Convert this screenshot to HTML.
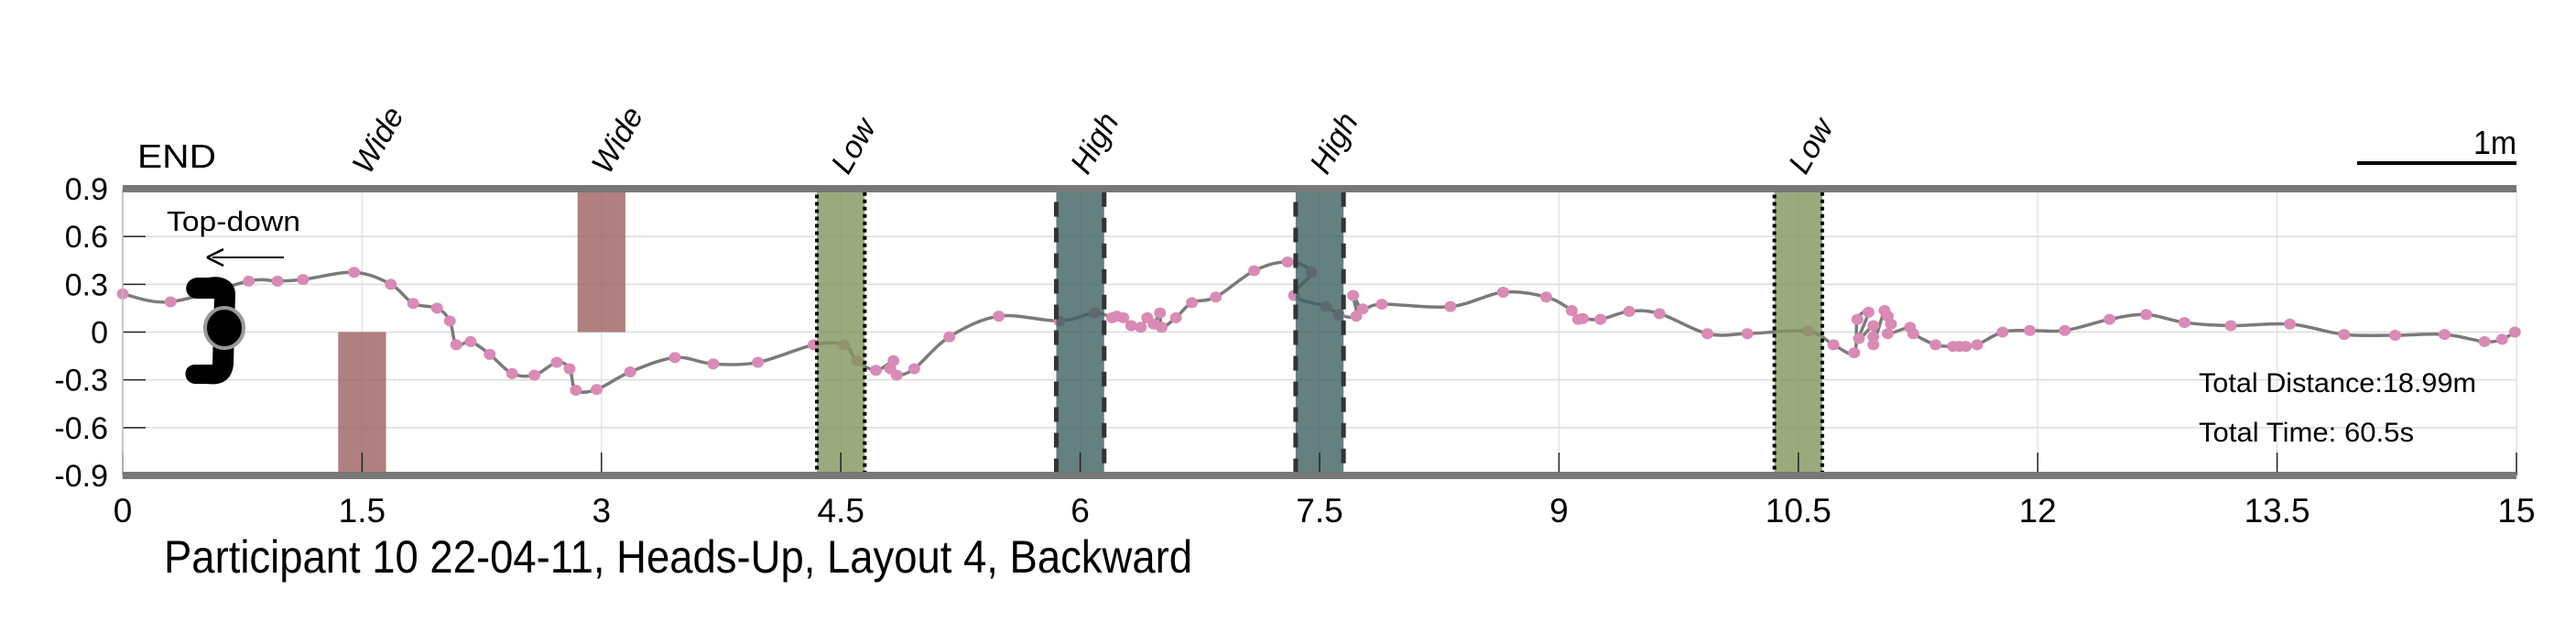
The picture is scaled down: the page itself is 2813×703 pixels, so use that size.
<!DOCTYPE html>
<html><head><meta charset="utf-8"><style>
html,body{margin:0;padding:0;background:#fff;}
svg{display:block;font-family:"Liberation Sans",sans-serif;}
</style></head><body>
<svg id="chart" width="2813" height="703" viewBox="0 0 2813 703" xmlns="http://www.w3.org/2000/svg">
<g id="grid"></g>
<g id="bands-under"></g>
<g id="series"></g>
<g id="bands-over"></g>
<g id="axes"></g>
<text x="150" y="183" font-size="36" textLength="86" lengthAdjust="spacingAndGlyphs">END</text>
<text x="182" y="252" font-size="31" textLength="146" lengthAdjust="spacingAndGlyphs">Top-down</text>
<g>
<line x1="310" y1="281" x2="232" y2="281" stroke="#000" stroke-width="2"/>
<path d="M226 281 L244 272 M226 281 L244 290" stroke="#000" stroke-width="2.5" fill="none"/>
</g>
<g>
<path d="M228 303 C242 300 256 306 257 320 L255 398 C253 416 241 421 226 419 L213 419 C199 418 199 398 213 398 L232 398 L234 326 L216 326 C199 326 199 304 216 303 Z" fill="#000"/>
<ellipse cx="245" cy="358" rx="21" ry="22" fill="#000" stroke="#999" stroke-width="4"/>
</g>
<g>
<line x1="2574" y1="178" x2="2748" y2="178" stroke="#000" stroke-width="4"/>
<text x="2748" y="168" font-size="36" text-anchor="end" textLength="47" lengthAdjust="spacingAndGlyphs">1m</text>
</g>
<text x="2401" y="428" font-size="30" textLength="303" lengthAdjust="spacingAndGlyphs">Total Distance:18.99m</text>
<text x="2401" y="482" font-size="30" textLength="235" lengthAdjust="spacingAndGlyphs">Total Time: 60.5s</text>
<text x="179" y="625" font-size="50" textLength="1123" lengthAdjust="spacingAndGlyphs">Participant 10 22-04-11, Heads-Up, Layout 4, Backward</text>
</svg>
<script>
const xTicks = [0,1.5,3,4.5,6,7.5,9,10.5,12,13.5,15];
const xTickLabels = ["0","1.5","3","4.5","6","7.5","9","10.5","12","13.5","15"];
const yTicks = [0.9,0.6,0.3,0,-0.3,-0.6,-0.9];
const yTickLabels = ["0.9","0.6","0.3","0","-0.3","-0.6","-0.9"];
const bandCenters = [1.5,3,4.5,6,7.5,10.5];
const bandLabels = ["Wide","Wide","Low","High","High","Low"];
const bandTop = [0,0.9,0.9,0.9,0.9,0.9];
const bandBottom = [-0.9,0,-0.9,-0.9,-0.9,-0.9];
const bandHalfWidth = 0.15;
const pathX = [0,0.30,0.79,0.97,1.13,1.45,1.68,1.82,1.97,2.05,2.09,2.18,2.30,2.44,2.58,2.72,2.80,2.84,2.97,3.18,3.46,3.70,3.98,4.33,4.52,4.60,4.72,4.83,4.81,4.85,4.96,5.18,5.49,5.87,6.09,6.20,6.23,6.27,6.32,6.38,6.42,6.46,6.50,6.51,6.60,6.70,6.85,7.09,7.30,7.45,7.34,7.54,7.62,7.73,7.71,7.77,7.89,8.32,8.65,8.92,9.08,9.12,9.15,9.26,9.44,9.63,9.93,10.18,10.56,10.72,10.85,10.87,10.94,10.88,10.97,10.97,10.97,11.04,11.06,11.08,11.06,11.20,11.22,11.36,11.47,11.51,11.55,11.62,11.78,11.95,12.17,12.45,12.68,12.92,13.21,13.58,13.92,14.24,14.55,14.80,14.91,14.99];
const pathY = [0.24,0.19,0.32,0.32,0.33,0.375,0.30,0.18,0.15,0.07,-0.08,-0.06,-0.14,-0.26,-0.27,-0.19,-0.23,-0.365,-0.36,-0.25,-0.16,-0.20,-0.19,-0.08,-0.08,-0.18,-0.24,-0.18,-0.23,-0.27,-0.23,-0.03,0.10,0.07,0.12,0.09,0.10,0.09,0.04,0.03,0.09,0.05,0.12,0.03,0.09,0.185,0.22,0.385,0.44,0.375,0.23,0.16,0.11,0.10,0.23,0.145,0.175,0.16,0.25,0.22,0.135,0.08,0.085,0.08,0.13,0.116,-0.01,-0.01,0.005,-0.08,-0.13,0.08,0.125,-0.04,0.04,-0.03,-0.08,0.135,0.10,0.05,-0.01,0.03,-0.01,-0.08,-0.09,-0.09,-0.09,-0.08,0.00,0.01,0.01,0.08,0.11,0.06,0.04,0.05,-0.015,-0.02,-0.015,-0.06,-0.045,0.0];
const X0=134, X1=2748, Y0=519, Y1=206, XMIN=0, XMAX=15, YMIN=-0.9, YMAX=0.9;
function sx(v){return X0+(v-XMIN)/(XMAX-XMIN)*(X1-X0);}
function sy(v){return Y0-(v-YMIN)/(YMAX-YMIN)*(Y0-Y1);}
const NS="http://www.w3.org/2000/svg";
function mk(tag,attrs,parent){const e=document.createElementNS(NS,tag);for(const k in attrs)e.setAttribute(k,attrs[k]);parent.appendChild(e);return e;}
const grid=document.getElementById('grid'), axes=document.getElementById('axes');
const under=document.getElementById('bands-under'), over=document.getElementById('bands-over'), series=document.getElementById('series');
xTicks.forEach((t,i)=>{
  const g=mk('line',{x1:sx(t),x2:sx(t),y1:Y1,y2:Y0,stroke:'#e4e4e4','stroke-width':1.5},grid);
  
  
  const tk=mk('line',{x1:sx(t),x2:sx(t),y1:Y0,y2:Y0-25,stroke:'#222','stroke-width':1.5},axes);
  
  
  const tx=mk('text',{x:sx(t),y:570,'font-size':37,'text-anchor':'middle'},axes);
  tx.textContent=xTickLabels[i];
  
  
});
yTicks.forEach((t,i)=>{
  const g=mk('line',{x1:X0,x2:X1,y1:sy(t),y2:sy(t),stroke:'#dcdcdc','stroke-width':1.5},grid);
  
  
  const tk=mk('line',{x1:X0,x2:X0+25,y1:sy(t),y2:sy(t),stroke:'#222','stroke-width':1.5},axes);
  
  
  const tx=mk('text',{x:118,y:sy(t)+12,'font-size':34,'text-anchor':'end'},axes);
  tx.textContent=yTickLabels[i];
  
  
});
const yl=mk('line',{x1:X0,x2:X0,y1:Y1,y2:Y0,stroke:'#bbb','stroke-width':1.5},axes);


[YMAX,YMIN].forEach(v=>{
  const b=mk('line',{x1:X0,x2:X1,y1:sy(v),y2:sy(v),stroke:'#777','stroke-width':8},axes);
  
  
});
const pts=pathX.map((x,i)=>[sx(x),sy(pathY[i])]);
let d='M'+pts[0][0]+' '+pts[0][1];
for(let i=0;i<pts.length-1;i++){
  const p0=pts[Math.max(0,i-1)],p1=pts[i],p2=pts[i+1],p3=pts[Math.min(pts.length-1,i+2)];
  const c1=[p1[0]+(p2[0]-p0[0])/6,p1[1]+(p2[1]-p0[1])/6],c2=[p2[0]-(p3[0]-p1[0])/6,p2[1]-(p3[1]-p1[1])/6];
  d+=` C${c1[0]} ${c1[1]} ${c2[0]} ${c2[1]} ${p2[0]} ${p2[1]}`;
}
const ln=mk('path',{d:d,fill:'none',stroke:'#7a7a7a','stroke-width':3.5},series);


pts.forEach(p=>{
  const c=mk('ellipse',{cx:p[0],cy:p[1],rx:6.5,ry:6,fill:'#d98ab5'},series);
  
  
});
bandCenters.forEach((c,i)=>{
  const lab=bandLabels[i];
  const x=sx(c-bandHalfWidth), w=sx(c+bandHalfWidth)-x, y=sy(bandTop[i]), h=sy(bandBottom[i])-y;
  let fill,stroke=null,dash=null;
  if(lab==='Wide'){fill='rgb(156,96,96)';}
  else if(lab==='Low'){fill='rgb(130,149,92)';stroke='#000';dash='4 4';}
  else {fill='rgb(61,96,96)';stroke='#333';dash='16 12';}
  const r=mk('rect',{x:x,y:y,width:w,height:h,fill:fill,'fill-opacity':0.8},over);
  if(stroke){r.setAttribute('stroke',stroke);r.setAttribute('stroke-width',lab==='Low'?4:5);r.setAttribute('stroke-dasharray',dash);}
  
  
  const lx=sx(c)+8, ly=192;
  const t=mk('text',{x:lx,y:ly,'font-size':34,'font-style':'italic',transform:`rotate(-60 ${lx} ${ly})`},over);
  t.textContent=lab;
  
  
});
</script>
</body></html>
